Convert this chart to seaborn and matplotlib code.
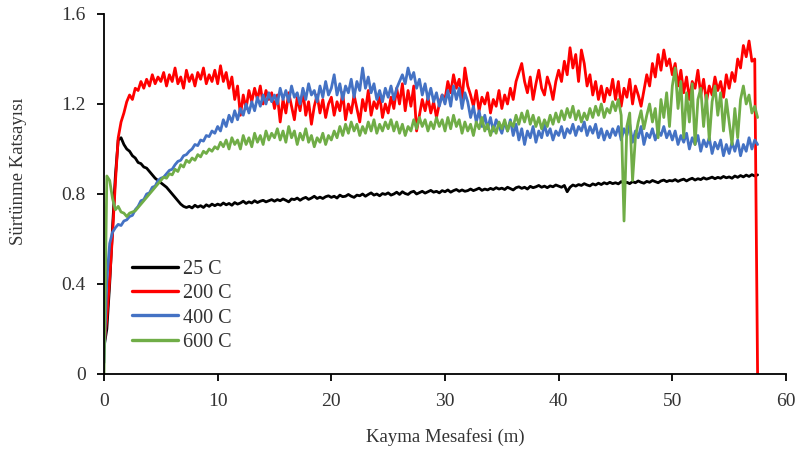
import numpy as np
import pandas as pd
import matplotlib
matplotlib.use("Agg")
import matplotlib.pyplot as plt
import seaborn as sns

# Sliding distance grid (m), 0.25 m steps from 0 to 57.5
distance = np.round(np.arange(0, 57.5 + 0.001, 0.25), 2)

series_labels = ["25 C", "200 C", "400 C", "600 C"]
series_colors = ["#000000", "#FF0000", "#4472C4", "#70AD47"]

cof_25 = [
    0.12, 0.20, 0.40, 0.65, 0.88, 1.04, 1.05, 1.02, 1.00, 0.99, 0.97, 0.96, 0.94, 0.935, 0.92, 0.915, 0.90, 0.885, 0.87, 0.86,
    0.85, 0.84, 0.83, 0.815, 0.80, 0.785, 0.77, 0.755, 0.745, 0.74, 0.745, 0.738, 0.75, 0.742, 0.748, 0.74, 0.752, 0.745, 0.755, 0.748,
    0.755, 0.75, 0.76, 0.752, 0.758, 0.75, 0.762, 0.755, 0.76, 0.768, 0.758, 0.765, 0.76, 0.77, 0.762, 0.768, 0.772, 0.765, 0.77, 0.775,
    0.768, 0.775, 0.77, 0.778, 0.772, 0.765, 0.778, 0.775, 0.782, 0.772, 0.78, 0.785, 0.776, 0.782, 0.79, 0.78, 0.786, 0.78, 0.788, 0.792,
    0.785, 0.79, 0.782, 0.795, 0.788, 0.79, 0.798, 0.79, 0.785, 0.795, 0.792, 0.80, 0.79, 0.798, 0.805, 0.795, 0.80, 0.792, 0.802, 0.798,
    0.805, 0.795, 0.80, 0.808, 0.798, 0.81, 0.802, 0.798, 0.808, 0.812, 0.80, 0.806, 0.812, 0.804, 0.81, 0.816, 0.808, 0.812, 0.805, 0.815,
    0.81, 0.818, 0.808, 0.815, 0.82, 0.812, 0.818, 0.812, 0.815, 0.822, 0.815, 0.82, 0.826, 0.816, 0.822, 0.818, 0.825, 0.82, 0.828, 0.822,
    0.826, 0.82, 0.83, 0.824, 0.818, 0.828, 0.832, 0.825, 0.83, 0.822, 0.834, 0.828, 0.832, 0.838, 0.83, 0.835, 0.828, 0.836, 0.832, 0.84,
    0.835, 0.83, 0.838, 0.81, 0.83, 0.84, 0.835, 0.842, 0.838, 0.846, 0.84, 0.836, 0.845, 0.84, 0.848, 0.842, 0.85, 0.845, 0.852, 0.846,
    0.85, 0.845, 0.855, 0.848, 0.852, 0.846, 0.855, 0.85, 0.858, 0.852, 0.848, 0.856, 0.852, 0.86, 0.855, 0.85, 0.858, 0.862, 0.855, 0.86,
    0.858, 0.864, 0.856, 0.862, 0.866, 0.858, 0.865, 0.87, 0.862, 0.868, 0.864, 0.872, 0.866, 0.87, 0.875, 0.868, 0.874, 0.87, 0.878, 0.872,
    0.876, 0.87, 0.88, 0.874, 0.882, 0.876, 0.884, 0.878, 0.886, 0.88, 0.885,
]

cof_200 = [
    0.12, 0.25, 0.42, 0.62, 0.85, 1.05, 1.12, 1.16, 1.21, 1.24, 1.22, 1.27, 1.26, 1.30, 1.27, 1.31, 1.28, 1.33, 1.29, 1.32,
    1.30, 1.34, 1.28, 1.33, 1.30, 1.36, 1.29, 1.32, 1.27, 1.35, 1.30, 1.33, 1.28, 1.34, 1.31, 1.36, 1.29, 1.33, 1.30, 1.35,
    1.29, 1.37, 1.30, 1.34, 1.27, 1.32, 1.22, 1.28, 1.15, 1.24, 1.18, 1.26, 1.21, 1.27, 1.22, 1.28, 1.20, 1.26, 1.22, 1.25,
    1.18, 1.24, 1.12, 1.22, 1.16, 1.25, 1.19, 1.13, 1.23, 1.17, 1.26, 1.15, 1.21, 1.11, 1.19, 1.24, 1.16, 1.22, 1.14, 1.20,
    1.23, 1.15, 1.21, 1.17, 1.25, 1.13, 1.20, 1.16, 1.24, 1.18, 1.12, 1.22, 1.17, 1.26, 1.15, 1.21, 1.18, 1.24, 1.14, 1.20,
    1.16, 1.23, 1.18, 1.27, 1.20, 1.29, 1.17, 1.26, 1.19, 1.28, 1.08, 1.15, 1.22, 1.17, 1.23, 1.16, 1.21, 1.14, 1.20, 1.24,
    1.22, 1.30, 1.25, 1.33, 1.27, 1.31, 1.22, 1.36, 1.28, 1.24, 1.19, 1.26, 1.17, 1.23, 1.20, 1.25, 1.16, 1.22, 1.19, 1.26,
    1.18, 1.24, 1.20, 1.27, 1.22, 1.30, 1.34, 1.38, 1.30, 1.25, 1.32, 1.22, 1.29, 1.35, 1.27, 1.24, 1.32, 1.28, 1.22, 1.30,
    1.35, 1.30, 1.39, 1.33, 1.45, 1.36, 1.42, 1.30, 1.44, 1.38, 1.28, 1.33, 1.24, 1.30, 1.22, 1.28, 1.21, 1.27, 1.24, 1.31,
    1.22, 1.30, 1.19, 1.27, 1.23, 1.31, 1.20, 1.28, 1.24, 1.19, 1.26, 1.33, 1.28, 1.38, 1.32, 1.42, 1.35, 1.44, 1.37, 1.40,
    1.33, 1.38, 1.28, 1.35, 1.25, 1.32, 1.22, 1.30, 1.27, 1.35, 1.24, 1.31, 1.21, 1.28, 1.24, 1.32, 1.26, 1.30, 1.23, 1.33,
    1.27, 1.34, 1.30, 1.40, 1.36, 1.46, 1.41, 1.48, 1.39, 1.40, 0.0,
]

cof_400 = [
    0.05, 0.42, 0.58, 0.63, 0.65, 0.665, 0.66, 0.68, 0.685, 0.70, 0.705, 0.73, 0.745, 0.77, 0.775, 0.80, 0.805, 0.83, 0.835, 0.86,
    0.87, 0.875, 0.89, 0.905, 0.91, 0.93, 0.945, 0.95, 0.97, 0.975, 0.99, 1.00, 1.02, 1.015, 1.04, 1.035, 1.06, 1.055, 1.08, 1.07,
    1.10, 1.08, 1.13, 1.10, 1.15, 1.12, 1.17, 1.13, 1.18, 1.15, 1.20, 1.16, 1.21, 1.17, 1.23, 1.19, 1.24, 1.20, 1.25, 1.21,
    1.24, 1.20, 1.27, 1.22, 1.26, 1.21, 1.28, 1.23, 1.25, 1.20, 1.27, 1.22, 1.29, 1.24, 1.26, 1.21, 1.28, 1.23, 1.30, 1.24,
    1.27, 1.33, 1.24, 1.29, 1.22, 1.28, 1.25, 1.31, 1.23, 1.30, 1.26, 1.36, 1.27, 1.32, 1.25, 1.29, 1.22, 1.26, 1.21, 1.27,
    1.23, 1.28, 1.22, 1.27, 1.30, 1.33, 1.29, 1.36, 1.31, 1.34, 1.27, 1.31, 1.24, 1.29, 1.22, 1.27, 1.21, 1.25, 1.19, 1.24,
    1.20, 1.26, 1.19, 1.28, 1.22, 1.27, 1.18, 1.25, 1.21, 1.14, 1.19, 1.12, 1.17, 1.10, 1.15, 1.09, 1.14, 1.08, 1.13, 1.10,
    1.07, 1.12, 1.08, 1.13, 1.06, 1.11, 1.04, 1.09, 1.02, 1.08, 1.05, 1.10, 1.03, 1.08, 1.05, 1.11, 1.06, 1.09, 1.04, 1.08,
    1.06, 1.10, 1.05, 1.09, 1.07, 1.11, 1.06, 1.10, 1.08, 1.12, 1.06, 1.10, 1.07, 1.11, 1.05, 1.09, 1.04, 1.08, 1.05, 1.09,
    1.06, 1.10, 1.04, 1.09, 1.06, 1.11, 1.03, 1.08, 1.05, 1.10, 1.02, 1.07, 1.05, 1.09, 1.04, 1.08, 1.06, 1.10, 1.05, 1.08,
    1.04, 1.08, 1.02, 1.06, 1.03, 1.07, 1.00, 1.05, 1.02, 1.06, 0.99, 1.04, 1.01, 1.05, 0.98, 1.03, 1.00, 1.04, 0.97, 1.02,
    0.98, 1.03, 0.99, 1.04, 0.97, 1.02, 0.99, 1.05, 1.00, 1.04, 1.02,
]

cof_600 = [
    0.0, 0.88, 0.86, 0.78, 0.73, 0.745, 0.72, 0.715, 0.70, 0.715, 0.72, 0.725, 0.74, 0.755, 0.77, 0.785, 0.80, 0.815, 0.83, 0.845,
    0.86, 0.875, 0.87, 0.89, 0.885, 0.91, 0.90, 0.93, 0.92, 0.95, 0.94, 0.96, 0.95, 0.975, 0.965, 0.99, 0.98, 1.00, 0.99, 1.01,
    1.00, 1.03, 1.01, 1.04, 1.00, 1.05, 1.02, 1.04, 1.00, 1.06, 1.02, 1.05, 1.01, 1.07, 1.03, 1.06, 1.02, 1.08, 1.04, 1.07,
    1.05, 1.09, 1.04, 1.08, 1.03, 1.10, 1.05, 1.08, 1.02, 1.07, 1.04, 1.09, 1.03, 1.06, 1.01, 1.05, 1.03, 1.07, 1.02, 1.06,
    1.04, 1.08, 1.05, 1.10, 1.06, 1.11, 1.07, 1.12, 1.08, 1.11, 1.06, 1.10, 1.07, 1.12, 1.08, 1.13, 1.07, 1.11, 1.08, 1.12,
    1.09, 1.13, 1.08, 1.12, 1.07, 1.11, 1.06, 1.10, 1.08, 1.13, 1.09, 1.14, 1.10, 1.13, 1.08, 1.12, 1.09, 1.14, 1.10, 1.13,
    1.08, 1.14, 1.09, 1.15, 1.10, 1.13, 1.07, 1.12, 1.08, 1.11, 1.06, 1.12, 1.09, 1.14, 1.08, 1.11, 1.06, 1.10, 1.07, 1.12,
    1.09, 1.13, 1.08, 1.12, 1.10, 1.15, 1.11, 1.16, 1.12, 1.17, 1.11, 1.15, 1.10, 1.14, 1.09, 1.13, 1.10, 1.15, 1.11, 1.16,
    1.12, 1.17, 1.13, 1.18, 1.14, 1.19, 1.13, 1.17, 1.12, 1.16, 1.13, 1.18, 1.14, 1.19, 1.15, 1.20, 1.14, 1.18, 1.16, 1.21,
    1.17, 1.22, 1.15, 0.68, 1.10, 1.16, 0.86, 1.05, 1.12, 1.17, 1.09, 1.15, 1.20, 1.12, 1.18, 1.05, 1.22, 1.14, 1.25, 1.10,
    1.28, 1.36, 1.18, 1.30, 1.05, 1.25, 1.12, 1.29, 1.02, 1.22, 1.27, 1.10, 1.24, 1.04, 1.21, 1.28, 1.15, 1.25, 1.08, 1.22,
    1.12, 1.02, 1.18, 1.05, 1.22, 1.28, 1.20, 1.24, 1.16, 1.19, 1.14,
]

x_ticks = [0, 10, 20, 30, 40, 50, 60]
y_ticks = [0, 0.4, 0.8, 1.2, 1.6]
y_tick_labels = ["0", "0.4", "0.8", "1.2", "1.6"]

frames = []
for lab, vals in zip(series_labels, [cof_25, cof_200, cof_400, cof_600]):
    frames.append(pd.DataFrame({"Kayma Mesafesi (m)": distance, "COF": vals, "Seri": lab}))
df = pd.concat(frames, ignore_index=True)

sns.set_theme(style="white")
plt.rcParams["font.family"] = ["Liberation Serif", "DejaVu Serif"]

fig = plt.figure(figsize=(8, 4.53), dpi=100)
ax = fig.add_axes([0.13, 0.1744, 0.8525, 0.7947])

sns.lineplot(data=df, x="Kayma Mesafesi (m)", y="COF", hue="Seri",
             hue_order=series_labels, palette=series_colors,
             estimator=None, sort=False, linewidth=2.0, ax=ax)

ax.set_xlim(0, 60)
ax.set_ylim(0, 1.6)
ax.set_xticks(x_ticks)
ax.set_yticks(y_ticks)
ax.set_yticklabels(y_tick_labels)
ax.tick_params(axis="both", which="major", direction="out", length=5, width=1.3,
               color="black", labelsize=14, labelcolor="#333333",
               bottom=True, left=True)
ax.tick_params(axis="x", pad=9)
ax.tick_params(axis="y", pad=8)
for side in ["top", "right"]:
    ax.spines[side].set_visible(False)
for side in ["left", "bottom"]:
    ax.spines[side].set_color("black")
    ax.spines[side].set_linewidth(1.3)

ax.set_xlabel("Kayma Mesafesi (m)", fontsize=13.5, color="#333333")
ax.xaxis.set_label_coords(0.5, -0.15)
ax.set_ylabel("Sürtünme Katsayısı", fontsize=13.5, color="#333333")
ax.yaxis.set_label_coords(-0.113, 0.564)

leg = ax.legend(loc="lower left", bbox_to_anchor=(0.041, 0.062), frameon=False,
                fontsize=14.5, handlelength=2.3, handletextpad=0.25,
                labelspacing=0.25, borderaxespad=0, borderpad=0)
for line in leg.get_lines():
    line.set_linewidth(2.4)
for t in leg.get_texts():
    t.set_color("#333333")

fig.savefig("out.png", dpi=100)
